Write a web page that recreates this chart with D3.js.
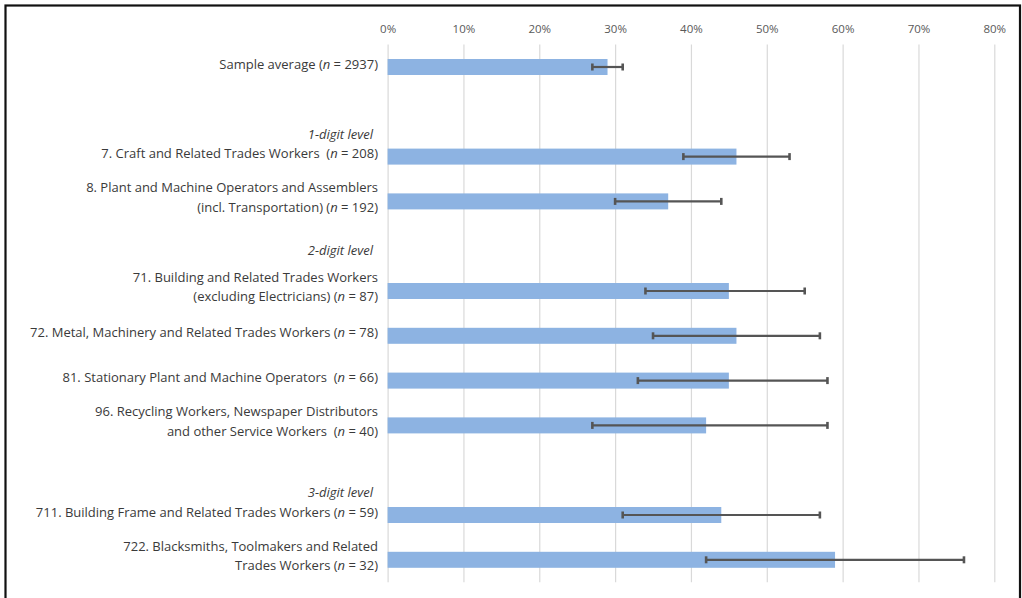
<!DOCTYPE html>
<html>
<head>
<meta charset="utf-8">
<script src="https://cdn.jsdelivr.net/npm/d3@7"></script>
<style>
  html, body { margin: 0; padding: 0; background: #fff; }
  svg { display: block; }
</style>
</head>
<body>
<svg id="chart" width="1022" height="598"></svg>
<script>
// ---------- data ----------
const slots = [0, 2, 3, 5, 6, 7, 8, 10, 11];          // category slot on the y axis (empty slots = gaps)
const labelLines = [
  ["Sample average (n = 2937)"],
  ["7. Craft and Related Trades Workers  (n = 208)"],
  ["8. Plant and Machine Operators and Assemblers", "(incl. Transportation) (n = 192)"],
  ["71. Building and Related Trades Workers", "(excluding Electricians) (n = 87)"],
  ["72. Metal, Machinery and Related Trades Workers (n = 78)"],
  ["81. Stationary Plant and Machine Operators  (n = 66)"],
  ["96. Recycling Workers, Newspaper Distributors", "and other Service Workers  (n = 40)"],
  ["711. Building Frame and Related Trades Workers (n = 59)"],
  ["722. Blacksmiths, Toolmakers and Related", "Trades Workers (n = 32)"]
];
const values = [29, 46, 37, 45, 46, 45, 42, 44, 59];
const lower  = [27, 39, 30, 34, 35, 33, 27, 31, 42];
const upper  = [31, 53, 44, 55, 57, 58, 58, 57, 76];
const headers = ["1-digit level", "2-digit level", "3-digit level"];
const headerSlots = [1.5, 4.1, 9.5];
const ticks = [0, 10, 20, 30, 40, 50, 60, 70, 80];

// ---------- layout ----------
const svg = d3.select("#chart");
const FONT = "'Open Sans', Lato, sans-serif";
const FS = 13;
const nSlots = 12;

const x = d3.scaleLinear().domain([0, 80]).range([387.6, 994.3]);
const y = d3.scaleBand().domain(d3.range(nSlots)).range([44.6, 582.2]).padding(0);
const yc = s => y(Math.floor(s)) + y.bandwidth() / 2 + (s - Math.floor(s)) * y.step();
const barH = 16;

// frame
svg.append("rect")
  .attr("x", 5.5).attr("y", 5.5).attr("width", 1014.5).attr("height", 620)
  .attr("fill", "none").attr("stroke", "#111").attr("stroke-width", 2.2);

// gridlines + tick labels via axis
const axis = d3.axisTop(x).tickValues(ticks).tickFormat(d => d + "%")
  .tickSize(-(y.range()[1] - y.range()[0])).tickSizeOuter(0);
const gAxis = svg.append("g").attr("transform", `translate(0,${y.range()[0]})`).call(axis);
gAxis.select(".domain").remove();
gAxis.selectAll(".tick line").attr("stroke", "#d9d9d9").attr("stroke-width", 1.2);
gAxis.selectAll(".tick text")
  .attr("y", -16).attr("dy", "0.35em")
  .attr("fill", "#595959").attr("font-family", FONT).attr("font-size", 11.5);

// bars
svg.append("g").selectAll("rect").data(values).join("rect")
  .attr("x", x(0))
  .attr("y", (d, i) => y(slots[i]) + y.bandwidth() / 2 - barH / 2)
  .attr("width", d => x(d) - x(0))
  .attr("height", barH)
  .attr("fill", "#8db3e2");

// error bars
const gErr = svg.append("g").attr("stroke", "#555").attr("stroke-width", 2.2);
values.forEach((v, i) => {
  const cy = y(slots[i]) + y.bandwidth() / 2;
  gErr.append("line").attr("x1", x(lower[i])).attr("x2", x(upper[i])).attr("y1", cy).attr("y2", cy);
  [lower[i], upper[i]].forEach(e => {
    gErr.append("line").attr("x1", x(e)).attr("x2", x(e)).attr("y1", cy - 3.5).attr("y2", cy + 3.5)
      .attr("stroke-width", 2.6);
  });
});

// category labels
const labelX = 378;
const lineH = 19.5;
const gLab = svg.append("g").attr("font-family", FONT).attr("font-size", FS).attr("fill", "#3a3a3a")
  .attr("text-anchor", "end");
labelLines.forEach((lines, i) => {
  const cy = y(slots[i]) + y.bandwidth() / 2 - (lines.length > 1 ? 4 : 3);
  lines.forEach((ln, j) => {
    const ty = cy + (j - (lines.length - 1) / 2) * lineH;
    const t = gLab.append("text").attr("x", labelX).attr("y", ty).attr("dy", "0.35em");
    const parts = ln.split(/\bn(?= =)/);
    parts.forEach((p, k) => {
      if (k > 0) t.append("tspan").attr("font-style", "italic").text("n");
      t.append("tspan").attr("xml:space", "preserve").style("white-space", "pre").text(p);
    });
  });
});

// group headers
svg.append("g").selectAll("text").data(headers).join("text")
  .attr("x", 373).attr("y", (d, i) => yc(headerSlots[i])).attr("dy", "0.35em")
  .attr("text-anchor", "end").attr("font-style", "italic")
  .attr("font-family", FONT).attr("font-size", FS).attr("fill", "#3a3a3a")
  .text(d => d);
</script>
</body>
</html>
